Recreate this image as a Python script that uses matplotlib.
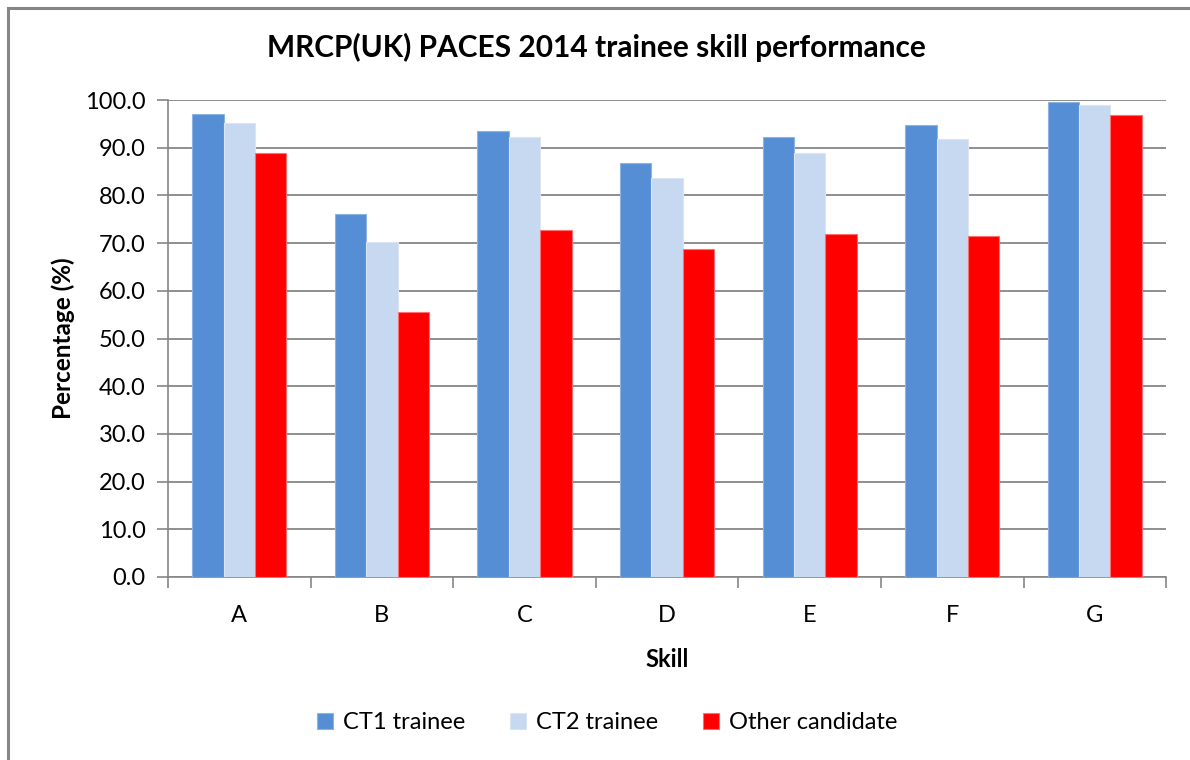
import numpy as np
import matplotlib
matplotlib.use("Agg")
import matplotlib.pyplot as plt
from matplotlib.patches import Rectangle

plt.rcParams['font.family'] = ['Lato', 'DejaVu Sans']

# data
skills = ["A", "B", "C", "D", "E", "F", "G"]
ct1 = [97.1, 76.1, 93.6, 86.7, 92.3, 94.7, 99.5]
ct2 = [95.2, 70.3, 92.3, 83.6, 88.8, 91.9, 99.0]
other = [88.8, 55.5, 72.8, 68.8, 71.9, 71.4, 96.8]
series_names = ["CT1 trainee", "CT2 trainee", "Other candidate"]
colours = ["#558ed5", "#c6d9f1", "#ff0000"]
edges = ["#8db3e2", "#dbe5f1", "#ff6f6f"]

fig = plt.figure(figsize=(11.9, 7.6), dpi=100)
ax = fig.add_axes([0.1412, 0.2408, 0.8387, 0.6276])

# outer chart frame (right/bottom edges run off the picture)
fig.patches.append(Rectangle((8 / 1190, -0.05), 1.2, 1 - 8 / 760 + 0.05,
                             transform=fig.transFigure, fill=False,
                             edgecolor="#868686", linewidth=2.2))

x = np.arange(len(skills))
w = 0.22
for i, (vals, name) in enumerate(zip([ct1, ct2, other], series_names)):
    ax.bar(x + (i - 1) * w, vals, w, color=colours[i], edgecolor=edges[i],
           linewidth=0.8, label=name, zorder=3)

ax.set_xlim(-0.5, len(skills) - 0.5)
ax.set_ylim(0, 100)
ax.set_yticks(np.arange(0, 101, 10))
ax.set_yticklabels([f"{v:.1f}" for v in np.arange(0, 101, 10)], fontsize=17)
ax.yaxis.grid(True, color="#868686", linewidth=1.3, zorder=0)

ax.set_xticks(np.arange(-0.5, len(skills), 1))
ax.set_xticklabels([])
ax.set_xticks(x, minor=True)
ax.set_xticklabels(skills, minor=True, fontsize=17)
ax.tick_params(axis="x", which="major", length=8, color="#868686", width=1.2)
ax.tick_params(axis="x", which="minor", length=0, pad=20)
ax.tick_params(axis="y", length=8, color="#868686", width=1.2, pad=8)

for s in ["top", "right"]:
    ax.spines[s].set_visible(False)
for s in ["left", "bottom"]:
    ax.spines[s].set_color("#868686")
    ax.spines[s].set_linewidth(1.2)

ax.set_xlabel("Skill", fontsize=17, fontweight="bold", labelpad=16)
ax.set_ylabel("Percentage (%)", fontsize=17.5, fontweight="bold", labelpad=7)
fig.text(0.5015, 0.937, "MRCP(UK) PACES 2014 trainee skill performance",
         ha="center", va="center", fontsize=21.5, fontweight="bold")

fig.legend(loc="center", bbox_to_anchor=(0.51, 0.049), ncol=3, frameon=False,
           fontsize=17, handlelength=0.7, handleheight=0.7, handletextpad=0.4,
           columnspacing=1.9)

fig.savefig("out.png", dpi=100)
